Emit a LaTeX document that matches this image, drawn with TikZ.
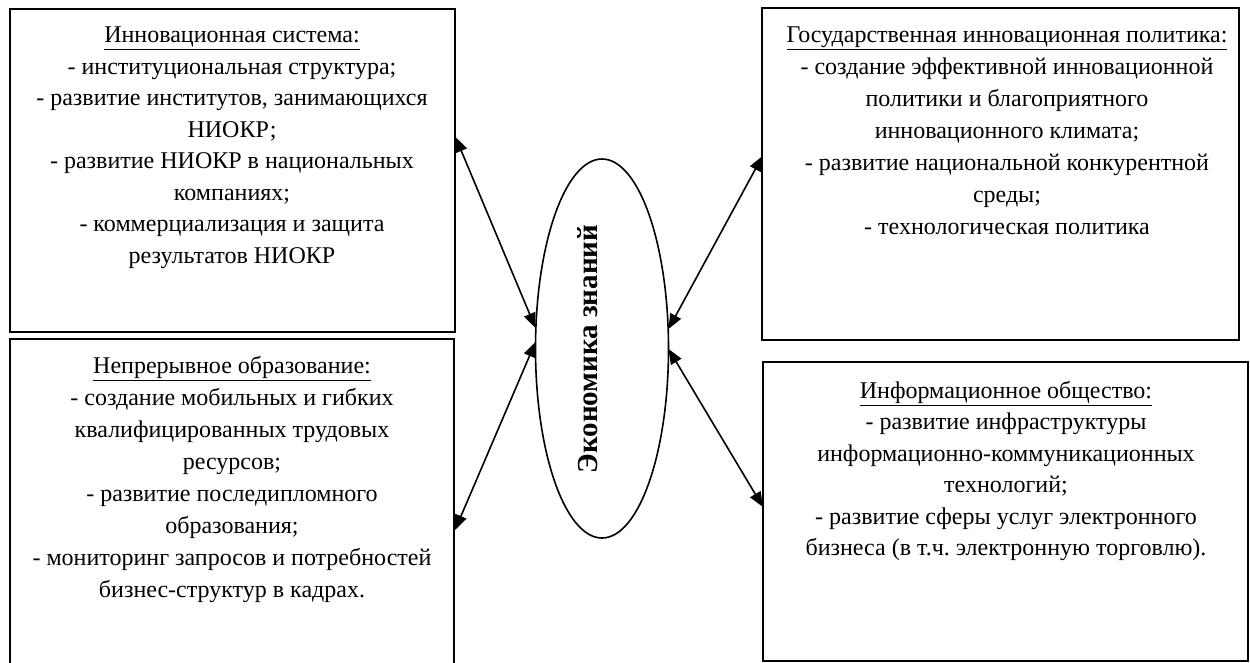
\documentclass[tikz,border=0pt]{standalone}
\usepackage{fontspec}
\setmainfont{Liberation Serif}
\frenchspacing
\usetikzlibrary{arrows.meta,shapes.geometric}
\begin{document}
\begin{tikzpicture}[x=1pt,y=-1pt,
  box/.style={draw,line width=1.7pt,inner sep=0pt,outer sep=0pt},
  txt/.style={align=center,anchor=north,font=\fontsize{24}{31.5}\selectfont,inner sep=0pt},
  txtw/.style={txt,font=\fontsize{24}{32}\selectfont},
  link/.style={line width=1.6pt,{Triangle[length=15pt,width=12pt]}-{Triangle[length=15pt,width=12pt]}}
]
\useasboundingbox (0,0) rectangle (1250,663);
\clip (0,0) rectangle (1250,663);
% boxes
\node[box,minimum width=445pt,minimum height=323pt] (b1) at (232.5,170.5) {};
\node[box,minimum width=444pt,minimum height=360pt] (b2) at (232,519) {};
\node[box,minimum width=477pt,minimum height=332pt] (b3) at (1000.5,174) {};
\node[box,minimum width=485pt,minimum height=299pt] (b4) at (1005.5,511.5) {};
% texts
\node[txt] (t1) at (232,27) {\underline{Инновационная система:}\\- институциональная структура;\\- развитие институтов, занимающихся\\НИОКР;\\- развитие НИОКР в национальных\\компаниях;\\- коммерциализация и защита\\результатов НИОКР};
\node[txtw] (t2) at (232,356) {\underline{Непрерывное образование:}\\- создание мобильных и гибких\\квалифицированных трудовых\\ресурсов;\\- развитие последипломного\\образования;\\- мониторинг запросов и потребностей\\бизнес-структур в кадрах.};
\node[txtw] (t3) at (1007,27) {\underline{Государственная инновационная политика:}\\- создание эффективной инновационной\\политики и благоприятного\\инновационного климата;\\- развитие национальной конкурентной\\среды;\\- технологическая политика};
\node[txt] (t4) at (1006,381) {\underline{Информационное общество:}\\- развитие инфраструктуры\\информационно-коммуникационных\\технологий;\\- развитие сферы услуг электронного\\бизнеса (в т.ч. электронную торговлю).};
% ellipse
\node[draw,ellipse,line width=1.6pt,minimum width=133pt,minimum height=379pt,inner sep=0pt] (e) at (602,348.5) {};
\node[rotate=90,font=\bfseries\fontsize{29}{32}\selectfont,inner sep=0pt] (et) at (588,349) {Экономика знаний};
% connector ends
\coordinate (p1) at (455.5,137);
\coordinate (p2) at (455,530);
\coordinate (p3) at (762.5,156);
\coordinate (p4) at (763,507);
\coordinate (q1) at (535.5,328);
\coordinate (q2) at (535.5,342);
\coordinate (q3) at (668.5,329);
\coordinate (q4) at (668.5,349);
\draw[link] (p1) -- (q1);
\draw[link] (p2) -- (q2);
\draw[link] (p3) -- (q3);
\draw[link] (p4) -- (q4);
\end{tikzpicture}
\end{document}
